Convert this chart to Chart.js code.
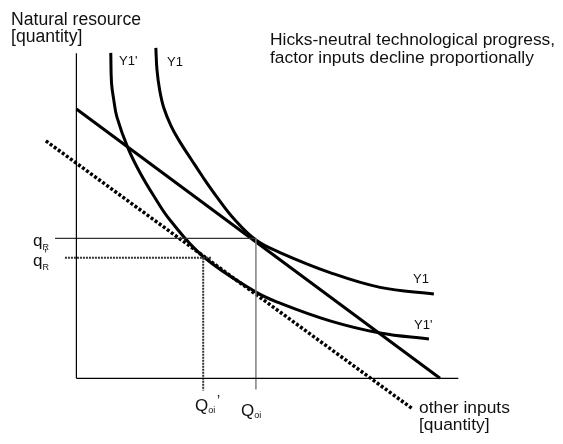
<!DOCTYPE html>
<html>
<head>
<meta charset="utf-8">
<script src="https://cdn.jsdelivr.net/npm/chart.js@4.4.0/dist/chart.umd.min.js"></script>
<style>
  html, body { margin: 0; padding: 0; background: #fff; }
  #wrap { width: 563px; height: 444px; position: relative; }
</style>
</head>
<body>
<div id="wrap"><canvas id="chart"></canvas></div>
<script>
// isoquant Y1 (before technological progress)
const isoY1 = [
  { x: 20.8, y: 100.6 }, { x: 21.1, y: 93.9 }, { x: 21.8, y: 87.8 }, { x: 22.9, y: 82.3 },
  { x: 24.8, y: 76.8 }, { x: 27.1, y: 72.0 }, { x: 30.0, y: 66.8 }, { x: 33.1, y: 61.3 },
  { x: 36.8, y: 55.2 }, { x: 41.3, y: 48.5 }, { x: 47.0, y: 42.1 }, { x: 53.3, y: 38.3 },
  { x: 66.4, y: 32.2 }, { x: 79.5, y: 27.7 }, { x: 93.6, y: 25.7 }
];
// isoquant Y1' (after progress)
const isoY1p = [
  { x: 9.0, y: 99.1 }, { x: 9.2, y: 89.9 }, { x: 9.8, y: 84.7 }, { x: 10.6, y: 79.6 },
  { x: 13.4, y: 70.4 }, { x: 16.7, y: 62.5 }, { x: 20.6, y: 54.9 }, { x: 24.5, y: 48.2 },
  { x: 33.2, y: 37.1 }, { x: 46.8, y: 26.4 }, { x: 53.3, y: 22.9 }, { x: 66.4, y: 17.5 },
  { x: 79.5, y: 13.8 }, { x: 92.3, y: 12.0 }
];
// isocost lines
const costLine = [{ x: 0, y: 82.0 }, { x: 95.2, y: 0 }];
const costLineP = [{ x: -8.0, y: 72.3 }, { x: 87.9, y: -9.2 }];
// axes
const axisX = [{ x: 0, y: 0 }, { x: 100, y: 0 }];
const axisY = [{ x: 0, y: 0 }, { x: 0, y: 99 }];
// optimum input levels
const qR = 42.6, qRp = 36.7;
const Qoi = 47.0, Qoip = 33.2;

const guideQR = [{ x: -5.6, y: qR }, { x: Qoi, y: qR }];
const guideQoi = [{ x: Qoi, y: qR }, { x: Qoi, y: -3.4 }];
const guideQRp = [{ x: -3.0, y: qRp }, { x: 35.5, y: qRp }];
const guideQoip = [{ x: Qoip, y: qRp }, { x: Qoip, y: -3.7 }];

const line = (data, color, width, extra) => Object.assign({
  data, borderColor: color, borderWidth: width, showLine: true,
  pointRadius: 0, fill: false, tension: 0
}, extra || {});

const labelPlugin = {
  id: 'labels',
  afterDatasetsDraw(chart) {
    const ctx = chart.ctx;
    ctx.save();
    ctx.fillStyle = '#111';
    ctx.textBaseline = 'alphabetic';
    const txt = (t, x, y, s) => {
      ctx.font = s + "px 'Liberation Sans', Arial, sans-serif";
      ctx.fillText(t, x, y);
      return ctx.measureText(t).width;
    };
    txt('Natural resource', 11, 25, 17.6);
    txt('[quantity]', 11, 42, 17.6);
    txt('Hicks-neutral technological progress,', 270, 45, 17.4);
    txt('factor inputs decline proportionally', 270, 63, 17.4);
    txt('other inputs', 419, 413, 17.4);
    txt('[quantity]', 419, 430, 17.4);

    txt("Y1'", 119, 65, 13);
    txt('Y1', 167, 66, 13);
    txt('Y1', 413, 283, 13);
    txt("Y1'", 414, 329, 13);

    let w = txt('q', 33, 246, 17);
    txt('R', 33 + w, 250, 9);
    w = txt('q', 33, 266, 17);
    txt('R', 33 + w, 270, 9);
    txt('\u2019', 44, 259, 14);

    w = txt('Q', 195, 411, 17);
    txt('oi', 195 + w, 413, 9);
    txt('\u2019', 217, 405, 14);
    w = txt('Q', 241, 416, 17);
    txt('oi', 241 + w, 418, 9);
    ctx.restore();
  }
};

new Chart(document.getElementById('chart'), {
  type: 'scatter',
  data: {
    datasets: [
      line(axisX, '#000', 1.2),
      line(axisY, '#000', 1.2),
      line(guideQR, '#333', 1.2),
      line(guideQoi, '#808080', 1.5),
      line(guideQRp, '#333', 2, { borderDash: [2, 1] }),
      line(guideQoip, '#333', 2, { borderDash: [2, 1] }),
      line(costLine, '#000', 3),
      line(costLineP, '#000', 3.5, { borderDash: [3, 2] }),
      line(isoY1, '#000', 3, { tension: 0.4 }),
      line(isoY1p, '#000', 3, { tension: 0.4 })
    ]
  },
  options: {
    responsive: true,
    maintainAspectRatio: false,
    animation: false,
    layout: { padding: 0 },
    plugins: { legend: { display: false }, tooltip: { enabled: false } },
    scales: {
      x: { type: 'linear', min: -20, max: 127.4, display: false },
      y: { type: 'linear', min: -20, max: 115.2, display: false }
    }
  },
  plugins: [labelPlugin]
});
</script>
</body>
</html>
